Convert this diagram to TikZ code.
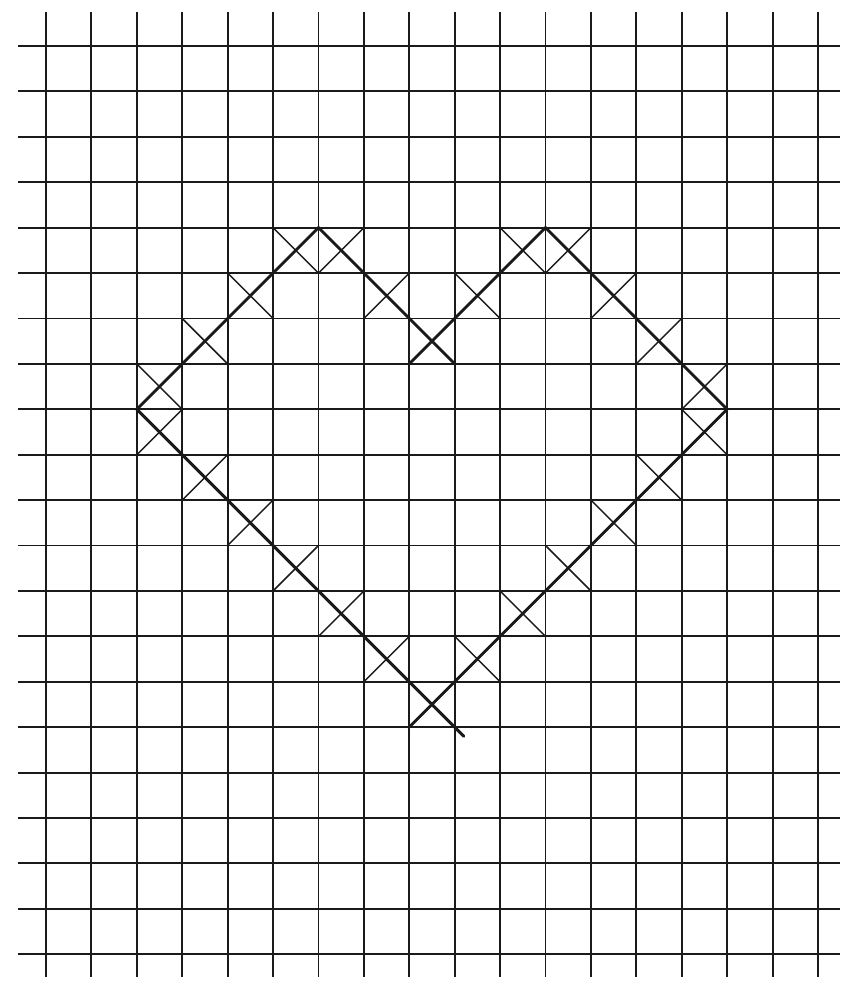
\documentclass[tikz,border=0pt]{standalone}
\usepackage{tikz}
\usetikzlibrary{calc}
\usepackage{xcolor}
\definecolor{ink}{HTML}{1A1A1A}

\begin{document}
\begin{tikzpicture}[
    gridline/.style={ink,line width=1.2pt},
    crossmark/.style={ink,line width=0.9pt},
    heartline/.style={ink,line width=1.8pt,line cap=round,line join=miter}
  ]
  \useasboundingbox (-1.013,1.013) rectangle (17.49,-20.70);
  % grid
  \foreach \i in {0,...,17}
    \draw[gridline] (\i,0.75) -- (\i,-20.5);
  \foreach \j in {0,...,20}
    \draw[gridline] (-0.62,-\j) -- (17.49,-\j);
  % crosses (column/row of the cell)
  \foreach \c/\r in {5/4,6/4,10/4,11/4,4/5,7/5,9/5,12/5,3/6,8/6,13/6,
                     2/7,14/7,2/8,14/8,3/9,13/9,4/10,12/10,5/11,11/11,
                     6/12,10/12,7/13,9/13,8/14}
  {
    \draw[crossmark] (\c,-\r) -- (\c+1,-\r-1);
    \draw[crossmark] (\c+1,-\r) -- (\c,-\r-1);
  }
  % heart outline
  \draw[heartline] (9.2,-15.2) -- (2,-8) -- (6,-4) -- (9,-7);
  \draw[heartline] (8,-7) -- (11,-4) -- (15,-8) -- (8,-15);
\end{tikzpicture}
\end{document}
